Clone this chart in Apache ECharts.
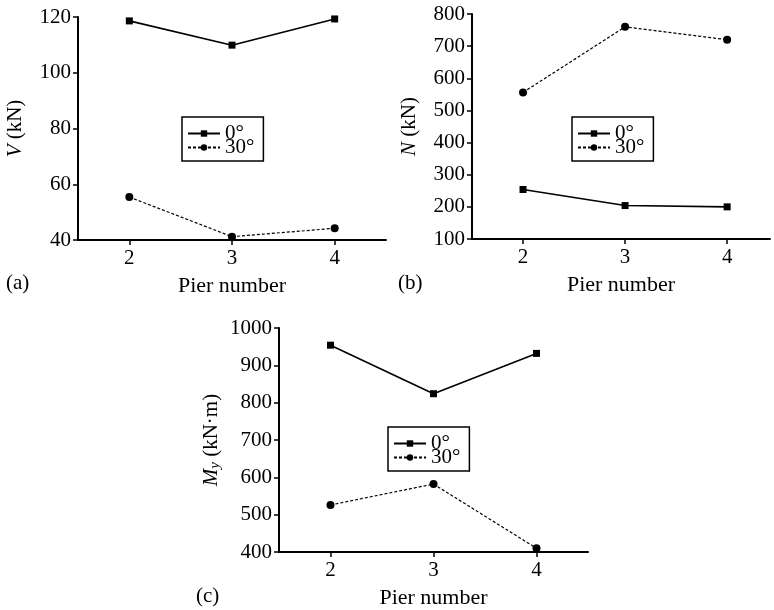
<!DOCTYPE html>
<html>
<head>
<meta charset="utf-8">
<script src="https://cdn.jsdelivr.net/npm/echarts@6/dist/echarts.min.js"></script>
<style>
  html, body { margin: 0; padding: 0; background: #fff; }
  #chart { width: 774px; height: 610px; }
</style>
</head>
<body>
<div id="chart"></div>
<script>
  // pier numbers on the x axis
  var piers = [2, 3, 4];
  // (a) shear force V (kN)
  var v0 = [118.6, 109.9, 119.3];
  var v30 = [55.4, 41.2, 44.2];
  // (b) axial force N (kN)
  var n0 = [254, 204, 200];
  var n30 = [556, 760, 720];
  // (c) moment My (kN·m)
  var m0 = [954, 824, 932];
  var m30 = [526, 582, 410];

  var FONT = 'Liberation Serif';
  var FS = 21;
  var ink = '#000';

  function pairs(vals) {
    return piers.map(function (p, i) { return [p, vals[i]]; });
  }

  function xAxisFor(idx, max) {
    return {
      type: 'value', gridIndex: idx, min: 1.5, max: max,
      name: 'Pier number', nameLocation: 'middle', nameGap: 35,
      nameTextStyle: { fontFamily: FONT, fontSize: FS + 1, color: ink },
      axisLine: { lineStyle: { color: ink, width: 2 } },
      axisTick: { show: true, length: 5, lineStyle: { color: ink, width: 1.5 }, customValues: piers },
      axisLabel: { fontFamily: FONT, fontSize: FS, color: ink, margin: 8, customValues: piers },
      splitLine: { show: false }
    };
  }

  function yAxisFor(idx, min, max, step, name, gap) {
    return {
      type: 'value', gridIndex: idx, min: min, max: max, interval: step,
      name: name, nameLocation: 'middle', nameRotate: 90, nameGap: gap,
      nameTextStyle: {
        fontFamily: FONT, fontSize: FS, color: ink,
        rich: {
          i: { fontFamily: FONT, fontSize: FS, fontStyle: 'italic', color: ink },
          sub: { fontFamily: FONT, fontSize: 15, fontStyle: 'italic', color: ink, verticalAlign: 'bottom', padding: [8, 0, 0, 0] },
          n: { fontFamily: FONT, fontSize: FS, color: ink }
        }
      },
      axisLine: { show: true, lineStyle: { color: ink, width: 2 } },
      axisTick: { show: true, length: 5, lineStyle: { color: ink, width: 1.5 } },
      axisLabel: { fontFamily: FONT, fontSize: FS, color: ink, margin: 7, formatter: function (v) { return String(v); } },
      splitLine: { show: false }
    };
  }

  function lines(idx, d0, d30) {
    return [{
      name: '0°', type: 'line', xAxisIndex: idx, yAxisIndex: idx,
      data: pairs(d0), symbol: 'rect', symbolSize: 7,
      itemStyle: { color: ink },
      lineStyle: { color: ink, width: 1.6, type: 'solid' }
    }, {
      name: '30°', type: 'line', xAxisIndex: idx, yAxisIndex: idx,
      data: pairs(d30), symbol: 'circle', symbolSize: 8,
      itemStyle: { color: ink },
      lineStyle: { color: ink, width: 1.2, type: [3, 2] }
    }];
  }

  function legendAt(left, top) {
    return {
      left: left, top: top, orient: 'vertical',
      data: ['0°', '30°'],
      itemGap: -7, itemWidth: 32, itemHeight: 8,
      padding: [6, 9, 3, 5],
      borderColor: ink, borderWidth: 1.5, borderRadius: 0,
      textStyle: { fontFamily: FONT, fontSize: FS, color: ink, lineHeight: 14 }
    };
  }

  function tag(text, x, y) {
    return { type: 'text', left: x, top: y, style: { text: text, font: FS + 'px ' + FONT, fill: ink } };
  }

  var chart = echarts.init(document.getElementById('chart'));
  chart.setOption({
    animation: false,
    backgroundColor: '#fff',
    grid: [
      { left: 78, top: 17, width: 308, height: 223 },
      { left: 472, top: 14, width: 298, height: 225 },
      { left: 279, top: 328, width: 309, height: 226 }
    ],
    xAxis: [xAxisFor(0, 4.5), xAxisFor(1, 4.42), xAxisFor(2, 4.5)],
    yAxis: [
      yAxisFor(0, 40, 120, 20, '{i|V} {n|(kN)}', 52),
      yAxisFor(1, 100, 800, 100, '{i|N} {n|(kN)}', 52),
      yAxisFor(2, 400, 1000, 100, '{i|M}{sub|y} {n|(kN·m)}', 56)
    ],
    legend: [legendAt(182, 117), legendAt(572, 117), legendAt(388, 427)],
    series: [].concat(lines(0, v0, v30), lines(1, n0, n30), lines(2, m0, m30)),
    graphic: [tag('(a)', 6, 273), tag('(b)', 398, 273), tag('(c)', 196, 586)]
  });
</script>
</body>
</html>
